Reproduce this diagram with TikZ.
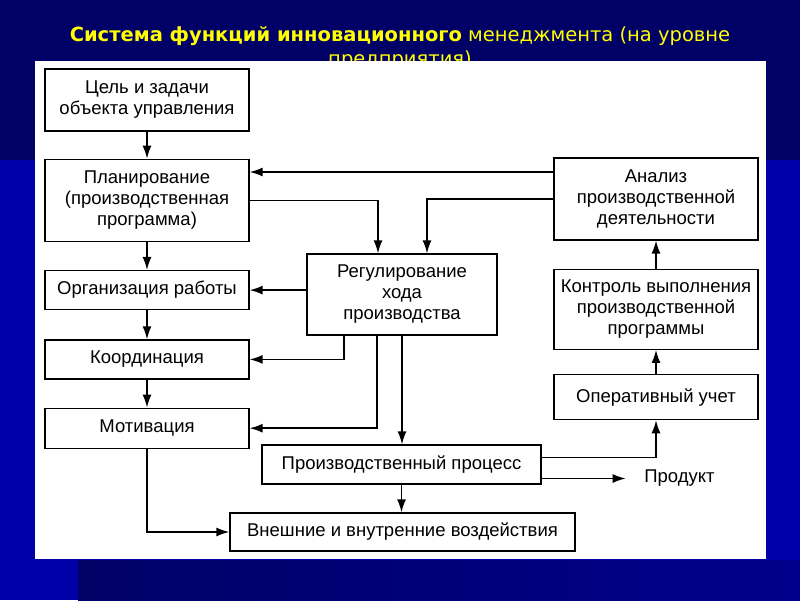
\documentclass[tikz,border=0pt]{standalone}
\usepackage{fontspec}
\setmainfont{Liberation Sans}
\newfontfamily\titlefont{DejaVu Sans}
\usepackage{tikz}
\usetikzlibrary{arrows.meta,positioning}

\definecolor{navy}{RGB}{0,0,102}
\definecolor{slideblue}{RGB}{0,0,168}
\definecolor{stripblue}{RGB}{0,0,140}
\definecolor{titleyellow}{RGB}{255,255,0}

\begin{document}
\begin{tikzpicture}[
  x=1pt, y=-1pt,
  box/.style={draw, rectangle, fill=white, minimum width=204pt, minimum height=39pt,
    inner sep=2pt, align=center, line width=1.3pt, font=\fontsize{18.5}{21}\selectfont},
  node distance=28pt,
  >={Latex[length=13pt,width=9pt]},
  line width=1.5pt
]

% --- Slide background ---
\fill[navy] (0,0) rectangle (800,600);
\fill[slideblue] (0,160) rectangle (800,600);
\shade[left color=navy, right color=stripblue] (78,560) rectangle (800,600);

% --- Title (second line runs under the panel) ---
\node[text=titleyellow, align=center, inner sep=0pt, anchor=north,
  font=\titlefont\fontsize{19.5}{24}\selectfont] (title) at (400,26)
  {\textbf{Система функций инновационного} менеджмента (на уровне\\предприятия)};

% --- White panel ---
\fill[white] (35,61) rectangle (766,559);

% --- Left column ---
\node[box, minimum height=62pt] (cel) at (147,100) {Цель и задачи\\объекта управления};
\node[box, minimum height=82pt, below=27pt of cel] (plan) {Планирование\\(производственная\\программа)};
\node[box, below=of plan] (org) {Организация работы};
\node[box, below=29pt of org] (koord) {Координация};
\node[box, minimum height=40pt, below=of koord] (motiv) {Мотивация};

% --- Right column ---
\node[box, minimum height=82pt] (analiz) at (656,199) {Анализ\\производственной\\деятельности};
\node[box, minimum height=80pt, below=of analiz] (kontrol) {Контроль выполнения\\производственной\\программы};
\node[box, minimum height=45pt, below=24pt of kontrol] (oper) {Оперативный учет};

% --- Middle ---
\node[box, minimum width=190pt, minimum height=81pt] (regul) at (402,294.5) {Регулирование\\хода\\производства};
\node[box, minimum width=279pt] (proizv) at (401.5,464.5) {Производственный процесс};
\node[box, minimum width=345pt, minimum height=38pt] (vneshn) at (402.5,532) {Внешние и внутренние воздействия};
\node[anchor=west, inner sep=0pt, font=\fontsize{18.5}{21}\selectfont] (produkt)
  at ([xshift=102pt,yshift=-14pt]proizv.east) {Продукт};

% --- Left column chain ---
\draw[->] (cel) -- (plan);
\draw[->] (plan) -- (org);
\draw[->] (org) -- (koord);
\draw[->] (koord) -- (motiv);

% --- Feedback from analysis ---
\draw[->] ([yshift=27pt]analiz.west) -- ([yshift=27pt]analiz.west -| plan.east);
\draw[->] (plan.east) -| ([xshift=-24pt]regul.north);
\draw[->] (analiz.west) -| ([xshift=25pt]regul.north);

% --- Regulation outputs ---
\draw[->] (regul.west |- org.east) -- (org.east);
\draw[->] ([xshift=-58pt]regul.south) |- (koord.east);
\draw[->] ([xshift=-25pt]regul.south) |- (motiv.east);
\draw[->] (regul.south) -- (regul.south |- proizv.north);

% --- Process ---
\draw[->] (proizv.south) -- (proizv.south |- vneshn.north);
\draw[->] (motiv.south) |- (vneshn.west);
\draw[->] ([yshift=7pt]proizv.east) -| (oper.south);
\draw[->] ([yshift=-14pt]proizv.east) -- ([xshift=-18pt]produkt.west);

% --- Right column chain ---
\draw[->] (oper) -- (kontrol);
\draw[->] (kontrol) -- (analiz);

\end{tikzpicture}
\end{document}
